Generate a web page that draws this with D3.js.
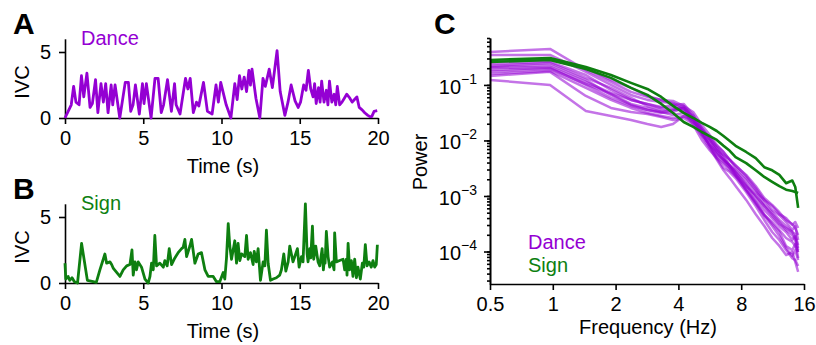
<!DOCTYPE html>
<html>
<head>
<meta charset="utf-8">
<script src="https://cdn.jsdelivr.net/npm/d3@7"></script>
<style>
body { margin: 0; background: #fff; }
text { font-family: "Liberation Sans", Arial, sans-serif; }
</style>
</head>
<body>
<div id="chart"></div>
<script>
// ---- panel A: dance IVC trace ----
var danceT = [0,0.2,0.4,0.55,0.7,0.9,1.05,1.2,1.4,1.6,
  1.75,1.95,2.1,2.3,2.45,2.6,2.75,2.95,3.05,3.2,
  3.5,3.85,4.05,4.2,4.35,4.5,4.75,4.95,5.05,5.2,
  5.5,5.75,5.95,6.15,6.3,6.55,6.8,7.0,7.1,7.35,
  7.7,7.85,8.0,8.2,8.4,8.55,8.85,9.1,9.4,9.65,
  9.8,9.95,10.3,10.6,10.85,11.0,11.15,11.3,11.45,11.6,
  11.75,11.85,11.95,12.2,12.45,12.65,12.8,13.05,13.25,13.4,
  13.55,13.75,14.05,14.25,14.45,14.7,14.9,15.05,15.25,15.4,
  15.55,15.7,15.85,15.95,16.05,16.2,16.3,16.4,16.55,16.7,
  16.8,16.9,17.05,17.2,17.3,17.4,17.55,17.7,17.85,18.0,
  18.2,18.35,18.5,18.65,18.8,19.0,19.15,19.35,19.5,19.6,
  19.75,19.95];
var danceIVC = [0,0.5,1.0,2.4,1.2,1.0,3.2,1.6,3.4,0.8,
  1.1,2.9,0.4,2.6,1.2,2.6,0.4,2.5,1.0,2.5,
  0,2.7,2.7,0.5,1.0,2.5,0.3,2.6,1.1,2.6,
  0,3.0,3.0,0.4,1.0,2.9,0.5,2.6,1.0,0.3,
  3.0,2.2,3.0,0.4,1.2,0.9,2.7,0.5,0.3,2.5,
  1.2,2.7,1.0,0,2.6,1.4,3.2,2.2,3.1,2.0,
  3.6,2.5,3.7,1.5,0,3.0,2.4,3.7,2.3,3.7,
  5.1,2.0,0.2,1.2,2.5,1.3,0.8,1.2,2.5,2.1,
  3.6,2.2,1.6,2.6,1.1,2.3,1.2,2.8,1.2,2.1,
  1.0,2.8,1.2,1.8,1.0,2.4,1.0,1.2,1.5,1.8,
  1.5,1.2,1.4,1.6,0.8,0.6,0.4,0.2,0.1,0.1,
  0.5,0.55];

// ---- panel B: sign IVC trace ----
var signT = [0,0.05,0.2,0.3,0.45,0.6,0.8,1.06,1.43,1.8,
  2.0,2.23,2.55,2.66,2.87,2.98,3.09,3.3,3.51,3.72,
  3.94,4.15,4.28,4.36,4.47,4.57,4.68,4.89,5.11,5.32,
  5.43,5.53,5.64,5.74,5.85,6.06,6.28,6.38,6.53,6.66,
  6.81,7.02,7.23,7.45,7.55,7.66,7.77,7.98,8.09,8.3,
  8.51,8.72,8.94,9.15,9.47,9.68,9.89,10.11,10.21,10.32,
  10.43,10.53,10.64,10.85,10.96,11.06,11.17,11.28,11.49,11.6,
  11.7,11.85,12.02,12.09,12.23,12.34,12.49,12.66,12.77,12.87,
  12.98,13.13,13.3,13.51,13.72,13.83,13.98,14.11,14.26,14.36,
  14.57,14.85,14.96,15.11,15.21,15.36,15.47,15.53,15.64,15.7,
  15.81,15.89,16.02,16.17,16.28,16.43,16.51,16.6,16.62,16.7,
  16.81,16.91,17.09,17.19,17.23,17.34,17.55,17.77,17.87,17.98,
  18.02,18.09,18.19,18.3,18.4,18.51,18.62,18.72,18.87,19.0,
  19.09,19.19,19.3,19.43,19.57,19.68,19.79,19.89,19.96];
var signIVC = [1.5,0.3,0.5,0.2,0.4,0.1,0.0,3.0,0.2,0.1,
  0.05,1.0,2.2,1.5,1.6,1.4,1.1,0.8,0.5,1.0,
  1.3,1.4,2.5,0.6,1.6,1.0,1.6,1.2,0.3,0.0,
  0.5,1.5,1.0,3.6,1.3,1.5,1.2,1.7,1.3,2.6,
  1.4,1.9,2.3,2.6,2.7,3.3,2.0,2.8,3.3,1.5,
  2.2,2.3,1.0,0.5,0.5,0.1,0.1,0.8,0.3,1.9,
  4.5,2.8,1.8,3.2,1.5,3.0,1.7,2.2,2.0,3.6,
  1.8,2.3,1.4,2.4,1.6,2.6,0.2,1.6,1.3,4.0,
  1.5,0.2,0.3,0.4,0.6,1.0,2.2,0.9,1.6,2.8,
  1.6,2.6,1.2,2.0,1.6,6.0,2.2,1.6,2.6,1.9,
  4.3,1.8,2.8,1.6,1.3,2.6,1.0,2.1,1.5,3.9,
  2.0,1.2,1.6,1.0,3.8,1.6,1.7,1.8,1.0,1.8,
  0.6,3.0,1.0,1.7,0.5,1.8,0.4,1.2,0.3,1.5,
  1.2,2.9,1.3,1.6,1.2,1.7,1.2,1.4,2.9];

var timeTicks = [0, 5, 10, 15, 20];
var ivcTicks = [0, 5];

// ---- panel C: power spectra ----
var freqs = [0.5,0.97,1.44,1.9,2.37,2.84,3.31,3.77,4.24,4.71,5.18,5.65,6.11,6.58,7.05,7.52,8.45,9.39,10.32,11.26,12.19,13.13,14.06,14.53,15.0];

var danceS1 = [0.393,0.445,0.186,0.113,0.0748,0.0608,0.0537,0.0455,0.0354,0.0215,0.0142,0.0094,0.0067,0.0055,0.0045,0.0035,0.0024,0.00151,0.00092,0.00069,0.00051,0.00037,0.000313,0.000265,0.000198];
var danceS2 = [0.347,0.347,0.172,0.1,0.066,0.0537,0.0494,0.0474,0.0385,0.0234,0.0126,0.0083,0.0062,0.0045,0.0035,0.0029,0.0019,0.00118,0.00085,0.00056,0.00045,0.00034,0.000244,0.000288,0.000161];
var danceS3 = [0.26,0.282,0.202,0.123,0.0883,0.0634,0.0537,0.0515,0.0418,0.0254,0.0168,0.0111,0.008,0.0062,0.0045,0.0032,0.0021,0.00128,0.00072,0.00051,0.00037,0.000288,0.000225,0.000175,0.000106];
var danceS4 = [0.239,0.26,0.151,0.0813,0.0537,0.0455,0.0401,0.0436,0.0455,0.0288,0.0155,0.0102,0.0073,0.0048,0.0035,0.0027,0.00158,0.00092,0.00056,0.0004,0.000288,0.000225,0.000161,0.00019,0.000116];
var danceS5 = [0.22,0.249,0.134,0.0883,0.0583,0.0418,0.0354,0.0354,0.0418,0.0326,0.019,0.0126,0.0083,0.0062,0.0045,0.0036,0.0023,0.00139,0.00085,0.00066,0.00047,0.0004,0.0003,0.00034,0.000265];
var danceS6 = [0.211,0.229,0.123,0.066,0.0436,0.0354,0.0313,0.0326,0.0385,0.0276,0.0168,0.0102,0.0062,0.0045,0.0036,0.0024,0.00151,0.00104,0.00066,0.00047,0.00034,0.000244,0.000198,0.000161,0.000076];
var danceS7 = [0.202,0.211,0.113,0.0718,0.0537,0.0455,0.0385,0.0385,0.034,0.019,0.0102,0.0067,0.0048,0.0038,0.0029,0.0023,0.00139,0.00078,0.00047,0.000313,0.000225,0.000126,0.000106,0.000136,0.000098];
var danceS8 = [0.186,0.202,0.1,0.0583,0.0418,0.0354,0.0326,0.0288,0.0313,0.0234,0.0131,0.008,0.0053,0.0041,0.0032,0.0023,0.00128,0.00072,0.00044,0.000288,0.00019,0.000116,0.000083,0.000106,0.00007];
var danceS9 = [0.172,0.194,0.104,0.0688,0.0455,0.0385,0.0326,0.0354,0.0385,0.0254,0.0142,0.008,0.0048,0.0032,0.0027,0.0021,0.00118,0.00066,0.00037,0.000225,0.000161,0.000106,0.000076,0.00007,0.000055];
var danceS10 = [0.158,0.179,0.0883,0.0537,0.0385,0.0313,0.0276,0.0254,0.0276,0.0215,0.0155,0.0111,0.0073,0.0053,0.0036,0.0027,0.00165,0.001,0.00066,0.00044,0.000313,0.000265,0.000225,0.000207,0.000131];
var danceS11 = [0.145,0.172,0.0634,0.0385,0.0326,0.03,0.0265,0.0234,0.0254,0.0198,0.0121,0.0073,0.0045,0.0029,0.0021,0.00151,0.00085,0.00047,0.000288,0.000175,0.000126,0.0000865,0.000098,0.000065,0.000043];
var danceS12 = [0.123,0.1,0.034,0.0276,0.0234,0.0198,0.0175,0.0198,0.0276,0.0234,0.0142,0.0083,0.0057,0.0045,0.0032,0.0025,0.00128,0.00078,0.00045,0.00034,0.000244,0.000175,0.000148,0.000126,0.000098];

var signS1 = [0.282,0.306,0.211,0.151,0.109,0.0847,0.0608,0.0419,0.0313,0.0254,0.0207,0.0175,0.0148,0.012,0.0098,0.008,0.0062,0.0048,0.0033,0.0029,0.0024,0.0017,0.0019,0.00145,0.00061];
var signS2 = [0.259,0.282,0.194,0.134,0.0883,0.0661,0.0455,0.0313,0.0215,0.0175,0.0142,0.012,0.0102,0.008,0.0065,0.005,0.0039,0.0029,0.0022,0.0018,0.0015,0.0013,0.00123,0.00118,0.00113];

var danceSpectra = [danceS1, danceS2, danceS3, danceS4, danceS5, danceS6,
  danceS7, danceS8, danceS9, danceS10, danceS11, danceS12];
var signSpectra = [signS1, signS2];

var freqTicks = [0.5, 1, 2, 4, 8, 16];
var powerTicks = [1e-4, 1e-3, 1e-2, 1e-1];

var purple = '#9400d3';
var green = '#0e7f10';
var font = '"Liberation Sans", Arial, sans-serif';
var fs = 20;

var svg = d3.select('#chart')
  .append('svg')
  .attr('width', 816)
  .attr('height', 345);

function styleAxis(g) {
  g.attr('font-size', fs).attr('font-family', font);
  g.selectAll('path, line').attr('stroke', '#000').attr('stroke-width', 1.6);
}

// time trace panels (A and B share layout, B shifted down)
function drawTrace(dy, times, vals, color, name, letter) {
  var x = d3.scaleLinear().domain([0, 20]).range([65, 378]);
  var y = d3.scaleLinear().domain([0, 6]).range([118 + dy, 38.8 + dy]);

  var line = d3.line()
    .x(function(d, i) { return x(times[i]); })
    .y(function(d) { return y(d); });

  svg.append('g')
    .attr('transform', 'translate(0,' + (118 + dy) + ')')
    .call(d3.axisBottom(x).tickValues(timeTicks).tickFormat(d3.format('d'))
      .tickSize(6).tickSizeOuter(0).tickPadding(7))
    .call(styleAxis);

  svg.append('g')
    .attr('transform', 'translate(65,0)')
    .call(d3.axisLeft(y).tickValues(ivcTicks).tickFormat(d3.format('d'))
      .tickSize(6).tickSizeOuter(0).tickPadding(8))
    .call(styleAxis);

  svg.append('path')
    .datum(vals)
    .attr('d', line)
    .attr('fill', 'none')
    .attr('stroke', color)
    .attr('stroke-width', 2.8)
    .attr('stroke-linejoin', 'round');

  svg.append('text')
    .attr('x', 81).attr('y', 45 + dy)
    .attr('font-size', fs)
    .attr('fill', color)
    .text(name);

  svg.append('text')
    .attr('transform', 'translate(29,' + (82 + dy) + ') rotate(-90)')
    .attr('text-anchor', 'middle')
    .attr('font-size', fs)
    .text('IVC');

  svg.append('text')
    .attr('x', 223).attr('y', 173 + dy)
    .attr('text-anchor', 'middle')
    .attr('font-size', fs)
    .text('Time (s)');

  svg.append('text')
    .attr('x', 13).attr('y', 34 + dy)
    .attr('font-size', 30)
    .attr('font-weight', 'bold')
    .text(letter);
}

drawTrace(0, danceT, danceIVC, purple, 'Dance', 'A');
drawTrace(165, signT, signIVC, green, 'Sign', 'B');

// spectra panel C
var xC = d3.scaleLog().base(2).domain([0.5, 16]).range([490, 804]);
var yC = d3.scaleLog().domain([2.6e-5, 0.7]).range([284, 38]);

var specLine = d3.line()
  .x(function(d, i) { return xC(freqs[i]); })
  .y(function(d) { return yC(d); });

svg.append('g')
  .selectAll('path')
  .data(danceSpectra)
  .enter()
  .append('path')
  .attr('d', specLine)
  .attr('fill', 'none')
  .attr('stroke', purple)
  .attr('stroke-opacity', 0.55)
  .attr('stroke-width', 2.5)
  .attr('stroke-linejoin', 'round');

svg.append('g')
  .selectAll('path')
  .data(signSpectra)
  .enter()
  .append('path')
  .attr('d', specLine)
  .attr('fill', 'none')
  .attr('stroke', green)
  .attr('stroke-width', 2.6)
  .attr('stroke-linejoin', 'round');

svg.append('g')
  .attr('transform', 'translate(0,284)')
  .call(d3.axisBottom(xC).tickValues(freqTicks).tickFormat(function(d) { return d; })
    .tickSize(6).tickSizeOuter(0).tickPadding(7))
  .call(styleAxis);

// minor log ticks
svg.append('g')
  .attr('transform', 'translate(490,0)')
  .call(d3.axisLeft(yC).tickValues(yC.ticks()).tickFormat('').tickSize(3).tickSizeOuter(0))
  .call(styleAxis);

// major ticks with 10^n labels
var majorAxis = svg.append('g')
  .attr('transform', 'translate(490,0)')
  .call(d3.axisLeft(yC).tickValues(powerTicks).tickFormat('').tickSize(6).tickSizeOuter(0))
  .call(styleAxis);

majorAxis.selectAll('.tick').each(function(d) {
  var t = d3.select(this).append('text')
    .attr('x', -13)
    .attr('dy', '0.42em')
    .attr('text-anchor', 'end')
    .attr('fill', '#000')
    .attr('font-size', fs);
  t.append('tspan').text('10');
  t.append('tspan')
    .attr('dy', -10)
    .attr('font-size', 14)
    .text('\u2212' + Math.round(-Math.log10(d)));
});

svg.append('text')
  .attr('transform', 'translate(427,162) rotate(-90)')
  .attr('text-anchor', 'middle')
  .attr('font-size', fs)
  .text('Power');

svg.append('text')
  .attr('x', 648).attr('y', 334)
  .attr('text-anchor', 'middle')
  .attr('font-size', fs)
  .text('Frequency (Hz)');

svg.append('text')
  .attr('x', 528).attr('y', 249)
  .attr('font-size', fs)
  .attr('fill', purple)
  .text('Dance');

svg.append('text')
  .attr('x', 528).attr('y', 272)
  .attr('font-size', fs)
  .attr('fill', green)
  .text('Sign');

svg.append('text')
  .attr('x', 434).attr('y', 34)
  .attr('font-size', 30)
  .attr('font-weight', 'bold')
  .text('C');
</script>
</body>
</html>
